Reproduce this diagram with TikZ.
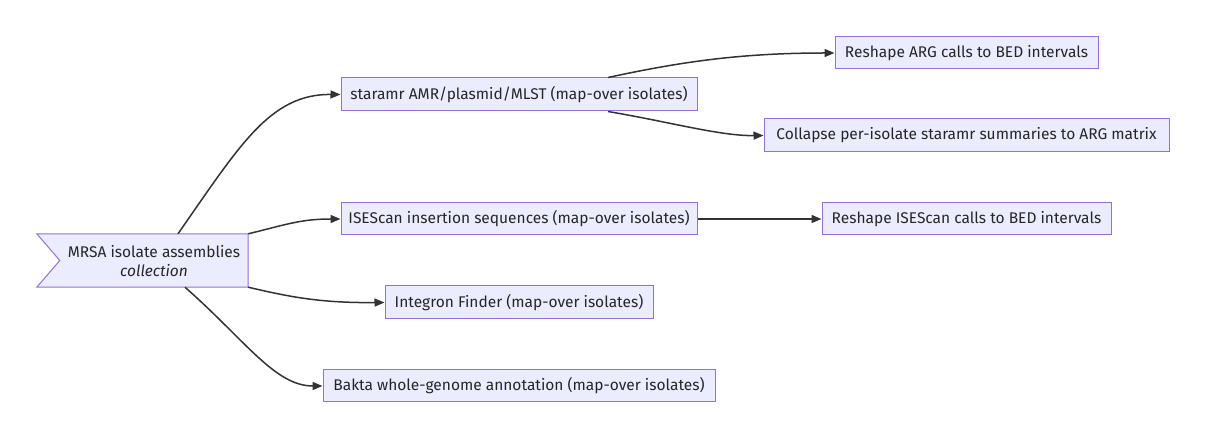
\documentclass[tikz,border=0pt]{standalone}
\usepackage{fontspec}
\setmainfont{Fira Sans}
\usetikzlibrary{arrows.meta,calc}
\definecolor{boxfill}{HTML}{ECECFF}
\definecolor{boxdraw}{HTML}{9370DB}
\definecolor{edgecol}{HTML}{333333}
\begin{document}
\begin{tikzpicture}[x=1pt,y=-1pt,
  proc/.style={draw=boxdraw,fill=boxfill,line width=1pt,minimum height=33pt,inner sep=0pt,font=\fontsize{15.5}{18}\selectfont,text=black!85},
  edge/.style={draw=edgecol,line width=1.5pt,-{Triangle[length=10pt,width=8pt]}},
  lbl/.style={font=\fontsize{15.5}{19}\selectfont,text=black!85,align=center,inner sep=0pt}
]
\useasboundingbox (0,0) rectangle (1205,443);
% source flag node
\node[minimum width=211pt,minimum height=53pt,inner sep=0pt] (mrsa) at (142.5,260.5) {};
\draw[draw=boxdraw,fill=boxfill,line width=1pt] (mrsa.north west) -- (mrsa.north east) -- (mrsa.south east) -- (mrsa.south west) -- ([xshift=23pt]mrsa.west) -- cycle;
\node[lbl] (mrsalbl) at (154,261) {MRSA isolate assemblies\\\textit{collection}};

\node[proc,minimum width=356pt] (star) at (519,94.5) {staramr AMR/plasmid/MLST (map-over isolates)};
\node[proc,minimum width=263pt,minimum height=32pt] (argbed) at (966.5,53) {Reshape ARG calls to BED intervals};
\node[proc,minimum width=405pt] (argmat) at (966.5,135.5) {Collapse per-isolate staramr summaries to ARG matrix};
\node[proc,minimum width=356pt,minimum height=32pt] (ises) at (519,219) {ISEScan insertion sequences (map-over isolates)};
\node[proc,minimum width=289pt,minimum height=32pt] (isbed) at (966.5,219) {Reshape ISEScan calls to BED intervals};
\node[proc,minimum width=268pt] (integ) at (519,302.5) {Integron Finder (map-over isolates)};
\node[proc,minimum width=392pt,minimum height=32pt] (bakta) at (519,386) {Bakta whole-genome annotation (map-over isolates)};

\draw[edge] ([xshift=35.5pt]mrsa.north) .. controls (240,145) and (270,94) .. (star.west);
\draw[edge] (mrsa.north east) .. controls (285,225) and (300,219) .. (ises.west);
\draw[edge] (mrsa.south east) .. controls (290,297) and (320,303) .. (integ.west);
\draw[edge] ([xshift=42.5pt]mrsa.south) .. controls (245,340) and (275,386) .. (bakta.west);
\draw[edge] ([xshift=89pt]star.north) .. controls (680,62) and (740,53) .. (argbed.west);
\draw[edge] ([xshift=89pt]star.south) .. controls (670,122) and (720,136) .. (argmat.west);
\draw[edge] (ises.east) -- (isbed.west);
\end{tikzpicture}
\end{document}
